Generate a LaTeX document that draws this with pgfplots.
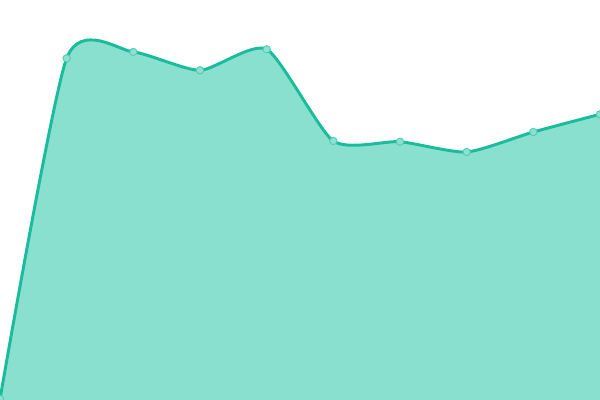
\documentclass[border=0pt]{standalone}
\usepackage{pgfplots}
\pgfplotsset{compat=1.18}
\definecolor{lineteal}{RGB}{26,188,156}
\definecolor{fillteal}{RGB}{137,224,207}
\definecolor{markfill}{RGB}{140,226,208}
\begin{document}
\begin{tikzpicture}
\begin{axis}[
    width=15cm, height=10cm,
    scale only axis,
    hide axis,
    xmin=0, xmax=9,
    ymin=0, ymax=400,
    clip=true,
    clip marker paths=true,
]
% area under the curve
\addplot[draw=none, fill=fillteal, smooth, tension=0.38] coordinates {
    (0,1) (1,341.7) (2,348) (3,329.7) (4,350.7) (5,259) (6,258.3) (7,248) (8,268) (9,285.7)
} \closedcycle;
% line with markers
\addplot[lineteal, line width=2.1pt, smooth, tension=0.38,
    mark=*, mark size=2.6pt,
    mark options={fill=markfill, draw=lineteal!75, line width=0.7pt}] coordinates {
    (0,1) (1,341.7) (2,348) (3,329.7) (4,350.7) (5,259) (6,258.3) (7,248) (8,268) (9,285.7)
};
\end{axis}
\pgfresetboundingbox
\useasboundingbox (current axis.south west) rectangle (current axis.north east);
\end{tikzpicture}
\end{document}
